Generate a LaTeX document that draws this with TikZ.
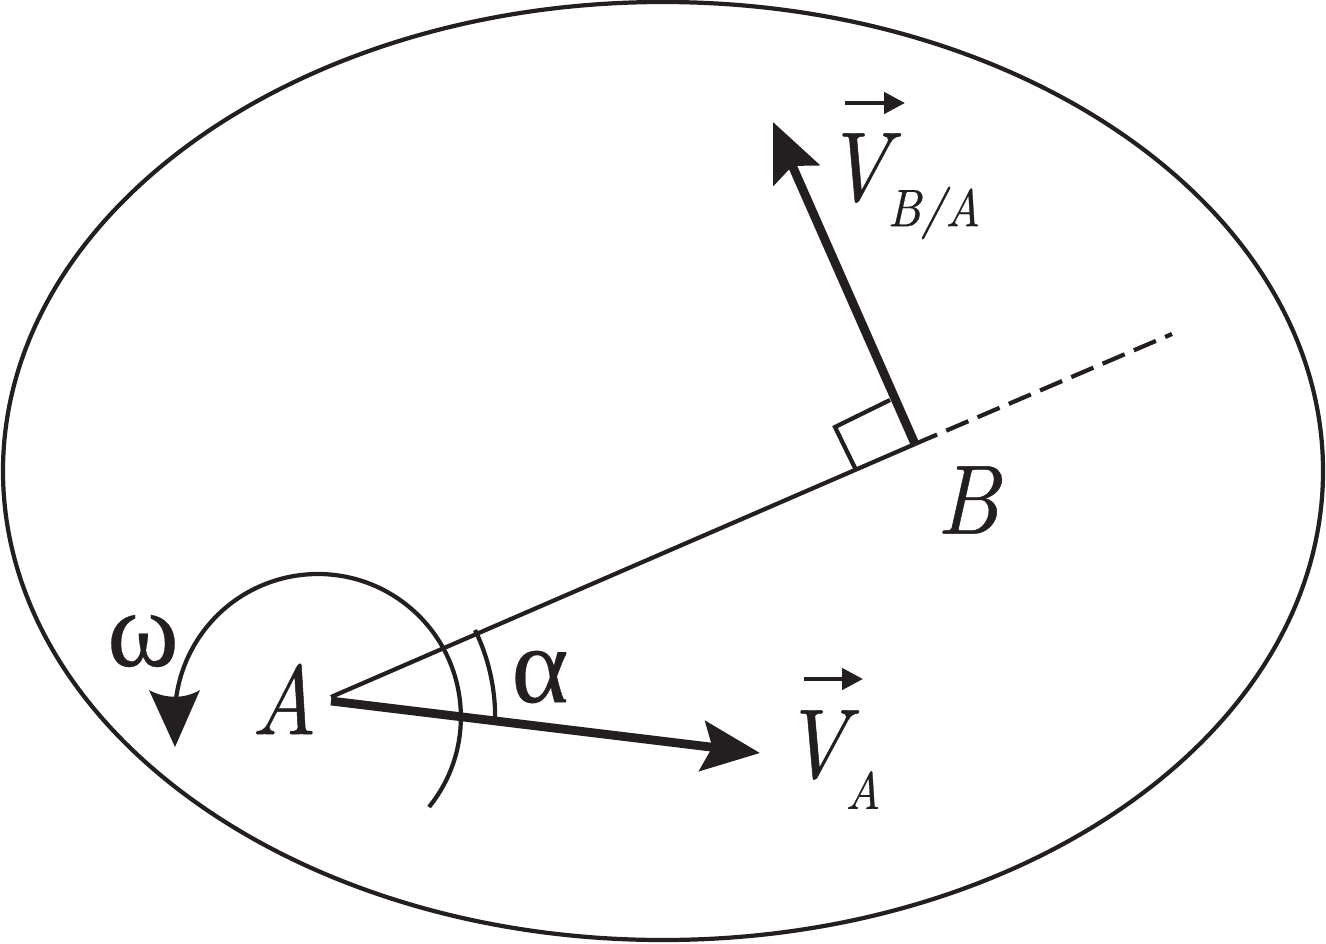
\documentclass[tikz,border=0pt]{standalone}
\usepackage{fontspec}
\setmainfont{Liberation Serif}
\newfontfamily\mylabelfont[Extension=.otf,ItalicFont=lmroman10-italic,ItalicFeatures={FakeStretch=0.9,FakeBold=0.5}]{lmroman10-regular}
\newfontfamily\mygreekfont[FakeBold=0.25]{Liberation Serif}
\usetikzlibrary{arrows.meta}
\definecolor{myink}{RGB}{35,31,32}
\tikzset{
  thinline/.style={draw=myink,line width=1.2pt},
  vecline/.style={draw=myink,line width=2.5pt,-{Stealth[length=0.58cm,width=0.5cm,inset=0.1cm]}},
  smallvec/.style={draw=myink,line width=1.3pt,-{Stealth[length=0.21cm,width=0.21cm,inset=0cm]}},
  biglabel/.style={inner sep=0pt,text=myink,font=\mylabelfont\fontsize{28}{28}\selectfont\itshape},
  sublabel/.style={inner sep=0pt,text=myink,font=\mylabelfont\fontsize{15}{15}\selectfont\itshape},
  greeklabel/.style={inner sep=0pt,text=myink,font=\mygreekfont\fontsize{31}{31}\selectfont}
}
\begin{document}
\begin{tikzpicture}
            \useasboundingbox (0,0) rectangle (13.26,9.43);
            \draw[thinline](6.63,4.72) ellipse (6.6 and 4.69);
            % points on the line
            \coordinate (pA) at (3.31,2.46);
            \coordinate (pB) at (9.15,4.99);
            \coordinate (pEnd) at (11.72,6.09);
            \coordinate (pVA) at (7.60,1.90);
            \coordinate (pVAstart) at (3.31,2.42);
            \coordinate (pVB) at (7.73,8.21);
            \draw[thinline] (pA)--(pB);
            \draw[thinline,dash pattern=on 0.24cm off 0.1cm] (pB)--(pEnd);
            \draw[vecline] (pVAstart)--(pVA);
            \draw[vecline] (pB)--(pVB);
            % right angle
            \draw[thinline] (8.55,4.75)--(8.35,5.16)--(8.90,5.43);
            % angle and rotation
            \draw[thinline] (4.75,3.13) arc[start angle=26, end angle=0, radius=1.99cm];
            \draw[thinline] (4.29,1.36) arc[start angle=-39, end angle=180, radius=1.43cm];
            \draw[draw=none,fill=myink] (1.75,1.96)--(1.49,2.53) .. controls (1.65,2.44) and (1.85,2.44) .. (2.00,2.53)--cycle;
            % labels
            \node[biglabel] (lA) at (2.84,2.44) {A};
            \node[biglabel] (lB) at (9.68,4.43) {B};
            \node[biglabel] (lV1) at (8.57,7.75) {V};
            \node[sublabel] (lS1) at (9.34,7.30) {B/A};
            \node[biglabel] (lV2) at (8.15,1.98) {V};
            \node[sublabel] (lS2) at (8.63,1.53) {A};
            \node[greeklabel] (lOm) at (1.43,3.02) {ω};
            \node[greeklabel] (lAl) at (5.40,2.66) {α};
            \coordinate (pV1a) at (8.45,8.40);
            \coordinate (pV1b) at (9.05,8.40);
            \coordinate (pV2a) at (8.04,2.64);
            \coordinate (pV2b) at (8.63,2.64);
            \draw[smallvec] (pV1a)--(pV1b);
            \draw[smallvec] (pV2a)--(pV2b);
        \end{tikzpicture}
\end{document}
